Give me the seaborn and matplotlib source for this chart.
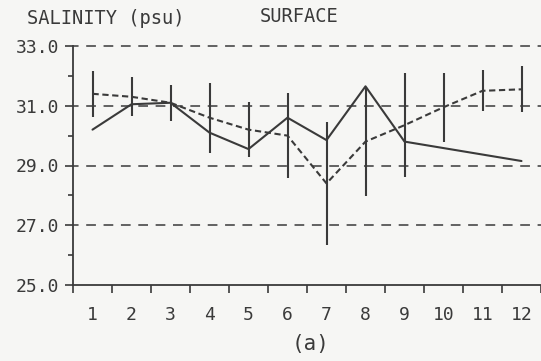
import numpy as np
import pandas as pd
import matplotlib
matplotlib.use("Agg")
import matplotlib.pyplot as plt
import seaborn as sns

# Monthly surface salinity
months = [1, 2, 3, 4, 5, 6, 7, 8, 9, 10, 11, 12]
clim_mean = [31.4, 31.3, 31.1, 30.6, 30.2, 30.0, 28.4, 29.8, 30.35, 30.95, 31.5, 31.55]
clim_sd = [0.77, 0.65, 0.6, 1.17, 0.92, 1.42, 2.05, 1.83, 1.73, 1.15, 0.68, 0.77]
year_obs = [30.2, 31.05, 31.1, 30.1, 29.55, 30.6, 29.85, 31.65, 29.8, np.nan, np.nan, 29.15]

y_ticks = [25.0, 27.0, 29.0, 31.0, 33.0]
y_minor = [26.0, 28.0, 30.0, 32.0]
grid_levels = [27.0, 29.0, 31.0, 33.0]

ink = "#3a3a3a"
paper = "#f6f6f4"

sns.set_theme(style="ticks")
plt.rcParams["font.family"] = ["DejaVu Sans Mono", "DejaVu Sans"]
plt.rcParams["lines.scale_dashes"] = False

clim = pd.DataFrame({"month": months, "salinity": clim_mean, "sd": clim_sd})
obs = pd.DataFrame({"month": months, "salinity": year_obs}).dropna()

fig = plt.figure(figsize=(5.41, 3.61), dpi=100, facecolor=paper)
ax = fig.add_axes([73 / 541, 1 - 285 / 361, 1 - 73 / 541, (285 - 46) / 361])
ax.set_facecolor(paper)

# dashed reference levels
for lv in grid_levels:
    ax.axhline(lv, color=ink, lw=1.1, linestyle=(3.0, (7.0, 5.5)), clip_on=False, zorder=1)

# climatological mean with +/- one standard deviation
ax.errorbar(clim["month"], clim["salinity"], yerr=clim["sd"], fmt="none",
            ecolor=ink, elinewidth=1.5, capsize=0, zorder=2)
sns.lineplot(data=clim, x="month", y="salinity", ax=ax, color=ink, lw=1.5,
             linestyle=(0, (4.5, 2.6)), zorder=3)
sns.lineplot(data=obs, x="month", y="salinity", ax=ax, color=ink, lw=1.5, zorder=3)

ax.set_xlim(0.5, 12.5)
ax.set_ylim(25, 33)
ax.set_xlabel("")
ax.set_ylabel("")

for s in ["top", "right"]:
    ax.spines[s].set_visible(False)
for s in ["left", "bottom"]:
    ax.spines[s].set_color(ink)
    ax.spines[s].set_linewidth(1.3)

ax.set_yticks(y_ticks)
ax.set_yticklabels([f"{v:.1f}" for v in y_ticks])
ax.set_yticks(y_minor, minor=True)
ax.set_xticks(months)
ax.set_xticklabels([str(m) for m in months])
ax.set_xticks(np.arange(0.5, 13.0, 1.0), minor=True)

ax.tick_params(axis="y", which="major", direction="out", length=6, width=1.2,
               color=ink, labelcolor=ink, labelsize=13, pad=4)
ax.tick_params(axis="y", which="minor", direction="out", length=3.6, width=1.2, color=ink)
ax.tick_params(axis="x", which="major", length=0, labelcolor=ink, labelsize=13, pad=15)
ax.tick_params(axis="x", which="minor", direction="out", length=6, width=1.2, color=ink)

fig.text(27 / 541, 1 - 18 / 361, "SALINITY (psu)", ha="left", va="center",
         fontsize=13.5, color=ink)
fig.text(260 / 541, 1 - 17 / 361, "SURFACE", ha="left", va="center",
         fontsize=13.5, color=ink)
fig.text(311 / 541, 1 - 344 / 361, "(a)", ha="center", va="center",
         fontsize=15, color=ink)

fig.savefig("out.png", dpi=100, facecolor=paper)
